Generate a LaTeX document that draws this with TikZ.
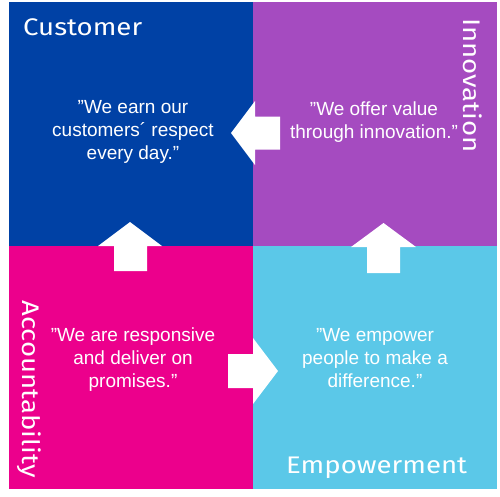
\documentclass[tikz,border=0pt]{standalone}
\usepackage{fontspec}
\newfontfamily\qfont{Liberation Sans}
\newfontfamily\tfont[FakeStretch=1.15]{Fira Sans}
\definecolor{cblue}{RGB}{0,65,165}
\definecolor{cpurple}{RGB}{165,75,192}
\definecolor{cmagenta}{RGB}{236,0,140}
\definecolor{ccyan}{RGB}{91,200,232}
\begin{document}
\begin{tikzpicture}[x=1pt,y=-1pt,
  quad/.style={inner sep=0pt, outer sep=0pt, minimum width=244pt, minimum height=243.5pt, anchor=north west},
  quote/.style={text=white, align=center, inner sep=0pt, font=\qfont\fontsize{19}{23}\selectfont, anchor=base},
  title/.style={text=white, inner sep=0pt, font=\tfont\fontsize{24}{28}\selectfont, anchor=base west},
  blockarrow/.style={fill=white, draw=none}]
\useasboundingbox (0,0) rectangle (500,496);
\node[quad, fill=cblue] (cust) at (9,2) {};
\node[quad, fill=cpurple] (inno) at (253,2) {};
\node[quad, fill=cmagenta] (acc) at (9,245.5) {};
\node[quad, fill=ccyan] (emp) at (253,245.5) {};
% titles
\node[title] (tcust) at (23,35) {Customer};
\node[title, rotate=-90] (tinno) at (463,18) {Innovation};
\node[title, rotate=-90] (tacc) at (22,300) {Accountability};
\node[title] (temp) at (286,473) {Empowerment};
% quotes (anchor base = baseline of last line)
\node[quote] (qcust) at (133,159) {”We earn our\\customers´ respect\\every day.”};
\node[quote] (qinno) at (374,138) {”We offer value\\through innovation.”};
\node[quote] (qacc) at (133,387) {”We are responsive\\and deliver on\\promises.”};
\node[quote] (qemp) at (375,387) {”We empower\\people to make a\\difference.”};
% arrows
\fill[blockarrow] (231,133) -- (255,101) -- (255,116.5) -- (280,116.5) -- (280,149.5) -- (255,149.5) -- (255,165) -- cycle;
\fill[blockarrow] (130,222) -- (162,246) -- (147,246) -- (147,271) -- (114,271) -- (114,246) -- (98,246) -- cycle;
\fill[blockarrow] (383.5,223) -- (416,247) -- (400,247) -- (400,273) -- (367,273) -- (367,247) -- (351,247) -- cycle;
\fill[blockarrow] (278,371) -- (253,404) -- (253,388) -- (228,388) -- (228,354) -- (253,354) -- (253,338) -- cycle;
\end{tikzpicture}
\end{document}
